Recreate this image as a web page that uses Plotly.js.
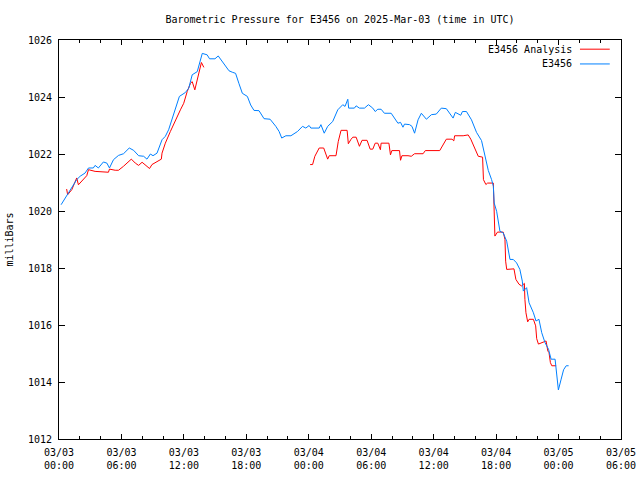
<!DOCTYPE html>
<html>
<head>
<meta charset="utf-8">
<script src="https://cdn.plot.ly/plotly-3.0.1.min.js"></script>
<style>html,body{margin:0;padding:0;background:#fff;}#chart{width:640px;height:480px;}</style>
</head>
<body>
<div id="chart"></div>
<script>
// ---- data ----
const blueTimes = [
"2025-03-03 00:12","2025-03-03 00:44","2025-03-03 01:14","2025-03-03 01:42","2025-03-03 02:02","2025-03-03 02:30","2025-03-03 02:50","2025-03-03 03:18","2025-03-03 03:28","2025-03-03 03:47",
"2025-03-03 04:16","2025-03-03 04:36","2025-03-03 04:51","2025-03-03 05:14","2025-03-03 05:43","2025-03-03 06:12","2025-03-03 06:45","2025-03-03 07:10","2025-03-03 07:39","2025-03-03 08:08",
"2025-03-03 08:27","2025-03-03 08:47","2025-03-03 09:02","2025-03-03 09:25","2025-03-03 09:54","2025-03-03 10:13","2025-03-03 10:32","2025-03-03 11:01","2025-03-03 11:34","2025-03-03 12:09",
"2025-03-03 12:28","2025-03-03 12:48","2025-03-03 13:17","2025-03-03 13:46","2025-03-03 14:14","2025-03-03 14:28","2025-03-03 14:59","2025-03-03 15:18","2025-03-03 15:51","2025-03-03 16:20",
"2025-03-03 16:39","2025-03-03 16:58","2025-03-03 17:17","2025-03-03 17:37","2025-03-03 18:06","2025-03-03 18:25","2025-03-03 18:44","2025-03-03 19:13","2025-03-03 19:42","2025-03-03 20:17",
"2025-03-03 20:50","2025-03-03 21:09","2025-03-03 21:24","2025-03-03 21:48","2025-03-03 22:17","2025-03-03 22:55","2025-03-03 23:24","2025-03-03 23:43",
"2025-03-04 00:02","2025-03-04 00:12","2025-03-04 01:00","2025-03-04 01:10","2025-03-04 01:29","2025-03-04 01:49","2025-03-04 02:18","2025-03-04 02:47","2025-03-04 03:16","2025-03-04 03:29",
"2025-03-04 03:45","2025-03-04 03:50","2025-03-04 04:23","2025-03-04 04:33","2025-03-04 04:52","2025-03-04 05:21","2025-03-04 05:44","2025-03-04 06:09","2025-03-04 06:23","2025-03-04 06:38",
"2025-03-04 06:57","2025-03-04 07:16","2025-03-04 07:55","2025-03-04 08:14","2025-03-04 08:34","2025-03-04 08:49","2025-03-04 09:03","2025-03-04 09:12","2025-03-04 09:41","2025-03-04 09:55",
"2025-03-04 10:10","2025-03-04 10:30","2025-03-04 10:49","2025-03-04 11:18","2025-03-04 11:47","2025-03-04 12:15","2025-03-04 12:44","2025-03-04 13:13","2025-03-04 13:32","2025-03-04 13:52",
"2025-03-04 14:05","2025-03-04 14:21","2025-03-04 14:36","2025-03-04 14:46","2025-03-04 15:09","2025-03-04 15:38","2025-03-04 16:07","2025-03-04 16:36","2025-03-04 16:55","2025-03-04 17:15",
"2025-03-04 17:34","2025-03-04 17:44","2025-03-04 17:49","2025-03-04 18:03","2025-03-04 18:22","2025-03-04 18:41","2025-03-04 19:01","2025-03-04 19:20","2025-03-04 19:39","2025-03-04 19:58",
"2025-03-04 20:17","2025-03-04 20:31","2025-03-04 20:37","2025-03-04 20:56","2025-03-04 21:10","2025-03-04 21:35","2025-03-04 21:50","2025-03-04 22:07","2025-03-04 22:23","2025-03-04 22:42",
"2025-03-04 23:02","2025-03-04 23:17","2025-03-04 23:40","2025-03-04 23:50","2025-03-04 23:59",
"2025-03-05 00:15","2025-03-05 00:29","2025-03-05 00:44","2025-03-05 00:58"
];
const blueValues = [
1020.22,1020.52,1020.82,1021.10,1021.22,1021.33,1021.51,1021.51,1021.60,1021.51,
1021.72,1021.68,1021.51,1021.80,1021.95,1022.01,1022.21,1022.13,1021.94,1021.92,
1021.82,1022.00,1021.94,1022.03,1022.50,1022.62,1022.85,1023.43,1024.02,1024.16,
1024.31,1024.78,1024.89,1025.53,1025.48,1025.34,1025.34,1025.44,1025.16,1024.92,
1024.87,1024.83,1024.48,1024.13,1024.02,1023.72,1023.53,1023.52,1023.24,1023.22,
1022.97,1022.79,1022.56,1022.64,1022.64,1022.79,1022.97,1022.91,
1023.00,1022.91,1022.91,1023.03,1022.73,1022.97,1023.14,1023.55,1023.73,1023.67,
1023.92,1023.61,1023.61,1023.69,1023.61,1023.61,1023.73,1023.61,1023.49,1023.57,
1023.57,1023.43,1023.43,1023.24,1023.08,1023.11,1022.94,1023.05,1023.03,1022.97,
1022.73,1023.20,1023.43,1023.22,1023.38,1023.40,1023.61,1023.59,1023.43,1023.26,
1023.46,1023.40,1023.36,1023.49,1023.49,1023.20,1022.76,1022.47,1022.01,1021.42,
1021.10,1020.87,1020.28,1019.99,1019.29,1019.23,1018.94,1018.30,1018.30,1018.18,
1017.95,1017.54,1017.19,1017.31,1016.78,1016.43,1016.14,1016.20,1015.73,1015.38,
1015.15,1014.80,1014.80,1014.22,1013.72,
1014.10,1014.43,1014.57,1014.57
];
const redTimes = [
"2025-03-03 00:44","2025-03-03 00:50","2025-03-03 01:14","2025-03-03 01:28","2025-03-03 01:42","2025-03-03 01:52","2025-03-03 02:20","2025-03-03 02:40","2025-03-03 02:50","2025-03-03 03:28",
"2025-03-03 04:45","2025-03-03 04:51","2025-03-03 05:24","2025-03-03 05:43","2025-03-03 06:12","2025-03-03 06:57","2025-03-03 07:20","2025-03-03 07:39","2025-03-03 07:59","2025-03-03 08:17",
"2025-03-03 08:42","2025-03-03 08:56","2025-03-03 09:25","2025-03-03 09:50","2025-03-03 09:54","2025-03-03 10:13","2025-03-03 10:42","2025-03-03 11:11","2025-03-03 11:40","2025-03-03 11:59",
"2025-03-03 12:19","2025-03-03 12:38","2025-03-03 12:48","2025-03-03 13:03","2025-03-03 13:26","2025-03-03 13:41","2025-03-03 13:55",
"2025-03-03 19:00",
"2025-03-04 00:08","2025-03-04 00:22","2025-03-04 00:35","2025-03-04 01:00","2025-03-04 01:26","2025-03-04 01:39","2025-03-04 01:49","2025-03-04 01:58","2025-03-04 02:37","2025-03-04 02:50",
"2025-03-04 03:06","2025-03-04 03:41","2025-03-04 03:48","2025-03-04 04:04","2025-03-04 04:14","2025-03-04 04:33","2025-03-04 04:52","2025-03-04 05:07","2025-03-04 05:36","2025-03-04 05:54",
"2025-03-04 06:09","2025-03-04 06:23","2025-03-04 06:38","2025-03-04 06:53","2025-03-04 06:57","2025-03-04 07:42","2025-03-04 07:51","2025-03-04 07:59","2025-03-04 08:43","2025-03-04 08:49",
"2025-03-04 08:57","2025-03-04 09:32","2025-03-04 09:51","2025-03-04 10:10","2025-03-04 10:59","2025-03-04 11:12","2025-03-04 12:35","2025-03-04 13:13","2025-03-04 13:46","2025-03-04 13:56",
"2025-03-04 14:01","2025-03-04 14:50","2025-03-04 15:19","2025-03-04 15:34","2025-03-04 15:57","2025-03-04 16:17","2025-03-04 16:42","2025-03-04 16:47","2025-03-04 17:01","2025-03-04 17:11",
"2025-03-04 17:44","2025-03-04 17:49","2025-03-04 17:53","2025-03-04 18:08","2025-03-04 18:41","2025-03-04 18:51","2025-03-04 18:55","2025-03-04 19:01","2025-03-04 19:43","2025-03-04 19:54",
"2025-03-04 20:12","2025-03-04 20:27","2025-03-04 20:43","2025-03-04 20:46","2025-03-04 20:52","2025-03-04 21:02","2025-03-04 21:10","2025-03-04 21:35","2025-03-04 21:48","2025-03-04 21:54",
"2025-03-04 22:04","2025-03-04 22:48","2025-03-04 22:58","2025-03-04 23:05","2025-03-04 23:13","2025-03-04 23:21","2025-03-04 23:46"
];
const redValues = [
1020.77,1020.57,1020.75,1020.98,1021.16,1020.92,1021.10,1021.24,1021.45,1021.39,
1021.36,1021.47,1021.43,1021.43,1021.57,1021.82,1021.68,1021.60,1021.71,1021.63,
1021.49,1021.63,1021.74,1021.82,1022.03,1022.38,1022.79,1023.20,1023.55,1023.78,
1024.19,1024.48,1024.54,1024.25,1024.83,1025.21,1025.04,
null,
1021.63,1021.63,1021.92,1022.21,1022.21,1021.97,1021.82,1021.94,1021.94,1022.44,
1022.83,1022.83,1022.36,1022.52,1022.59,1022.59,1022.27,1022.48,1022.48,1022.17,
1022.17,1022.38,1022.38,1022.15,1022.38,1022.38,1021.97,1022.12,1022.12,1021.78,
1021.94,1021.94,1021.92,1022.01,1022.01,1022.12,1022.12,1022.52,1022.52,1022.46,
1022.64,1022.64,1022.67,1022.52,1022.21,1021.92,1021.89,1021.10,1020.93,1020.98,
1020.98,1020.05,1019.12,1019.26,1019.26,1019.00,1018.24,1017.95,1017.97,1017.60,
1017.43,1017.37,1017.46,1016.90,1016.43,1016.11,1016.20,1016.20,1015.97,1015.52,
1015.33,1015.44,1015.09,1015.03,1014.68,1014.57,1014.57
];
const xTickVals = ["2025-03-03 00:00","2025-03-03 06:00","2025-03-03 12:00","2025-03-03 18:00","2025-03-04 00:00","2025-03-04 06:00","2025-03-04 12:00","2025-03-04 18:00","2025-03-05 00:00","2025-03-05 06:00"];
const xTickText = ["03/03<br>00:00","03/03<br>06:00","03/03<br>12:00","03/03<br>18:00","03/04<br>00:00","03/04<br>06:00","03/04<br>12:00","03/04<br>18:00","03/05<br>00:00","03/05<br>06:00"];
const yTickVals = [1012,1014,1016,1018,1020,1022,1024,1026];
const seriesNames = ["E3456 Analysis","E3456"];
const seriesColors = ["#ff0000","#0080ff"];
const chartTitle = "Barometric Pressure for E3456 on 2025-Mar-03 (time in UTC)";
const yTitle = "milliBars";

// ---- chart ----
const FONT = "DejaVu Sans Mono";
const traces = [
  {x: redTimes, y: redValues, name: seriesNames[0], type: "scatter", mode: "lines",
   line: {color: seriesColors[0], width: 1}, connectgaps: false, showlegend: false},
  {x: blueTimes, y: blueValues, name: seriesNames[1], type: "scatter", mode: "lines",
   line: {color: seriesColors[1], width: 1}, showlegend: false}
];

const annotations = seriesNames.map((n, i) => ({
  text: n, xref: "paper", yref: "paper", x: 0.917, y: 0.977 - i * 0.037,
  xanchor: "right", yanchor: "middle", showarrow: false,
  font: {family: FONT, size: 10, color: "#000"}
}));
const shapes = seriesColors.map((c, i) => ({
  type: "line", xref: "paper", yref: "paper",
  x0: 0.927, x1: 0.98, y0: 0.977 - i * 0.037, y1: 0.977 - i * 0.037,
  line: {color: c, width: 1}
}));

const layout = {
  width: 640, height: 480,
  margin: {l: 59, r: 19, t: 40, b: 41, pad: 0},
  paper_bgcolor: "#fff", plot_bgcolor: "#fff",
  font: {family: FONT, size: 10, color: "#000"},
  title: {text: chartTitle, x: 0.5, xref: "paper", y: 0.96, yanchor: "middle", font: {family: FONT, size: 10, color: "#000"}},
  showlegend: false,
  xaxis: {
    type: "date", range: ["2025-03-03 00:00", "2025-03-05 06:00"],
    tickmode: "array", tickvals: xTickVals, ticktext: xTickText,
    ticks: "inside", ticklen: 5, tickwidth: 1, tickcolor: "#000",
    ticklabelstandoff: 4,
    minor: {dtick: 2 * 3600 * 1000, tick0: "2025-03-03 00:00", ticks: "inside", ticklen: 3, tickcolor: "#000", showgrid: false},
    showline: true, linecolor: "#000", linewidth: 1, mirror: "ticks",
    showgrid: false, zeroline: false, fixedrange: true,
    tickfont: {family: FONT, size: 10, color: "#000"}
  },
  yaxis: {
    range: [1012, 1026], tickmode: "array", tickvals: yTickVals,
    ticks: "inside", ticklen: 6, tickwidth: 1, tickcolor: "#000",
    ticklabelstandoff: 4,
    showline: true, linecolor: "#000", linewidth: 1, mirror: "ticks",
    showgrid: false, zeroline: false, fixedrange: true,
    tickfont: {family: FONT, size: 10, color: "#000"},
    title: {text: yTitle, standoff: 12, font: {family: FONT, size: 10, color: "#000"}}
  },
  annotations: annotations,
  shapes: shapes
};

Plotly.newPlot("chart", traces, layout, {displayModeBar: false, staticPlot: true});
</script>
</body>
</html>
